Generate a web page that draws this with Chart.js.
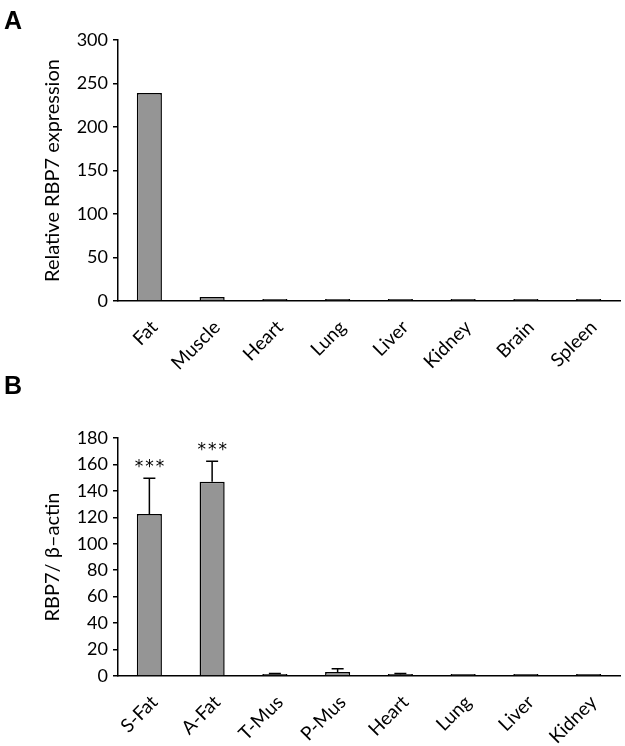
<!DOCTYPE html>
<html><head><meta charset="utf-8">
<script src="https://cdn.jsdelivr.net/npm/chart.js@4/dist/chart.umd.min.js"></script>
<style>
body{margin:0;background:#fff;width:625px;height:746px;position:relative;overflow:hidden}
canvas{position:absolute;left:0}
.lbl{position:absolute;font:bold 25px/1 "Liberation Sans",Arial,sans-serif;left:4px;color:#000}
</style></head><body>
<canvas id="ca" width="625" height="370" style="top:0"></canvas>
<canvas id="cb" width="625" height="376" style="top:370px"></canvas>
<div class="lbl" style="top:8px">A</div>
<div class="lbl" style="top:373px">B</div>
<script>
const catsA = ['Fat','Muscle','Heart','Lung','Liver','Kidney','Brain','Spleen'];
const valsA = [239, 4.5, 0.6, 0.3, 0.3, 0.3, 0.4, 0.3];

const catsB = ['S-Fat','A-Fat','T-Mus','P-Mus','Heart','Lung','Liver','Kidney'];
const valsB = [122.5, 147, 1.5, 3, 1.2, 0.2, 0.2, 0.2];
const errsB = [27, 15.5, 0.4, 2.5, 0.6, 0, 0, 0];
const starsB = ['***','***','','','','','',''];

const FONT = 'Lato';
const BAR_FILL = '#959595';

const errPlugin = {
  id: 'errbars',
  afterDatasetsDraw(chart, args, opts) {
    const errs = opts.errs || [];
    const stars = opts.stars || [];
    const ctx = chart.ctx;
    const y = chart.scales.y;
    const meta = chart.getDatasetMeta(0);
    const data = chart.data.datasets[0].data;
    ctx.save();
    ctx.strokeStyle = '#000';
    ctx.fillStyle = '#000';
    ctx.lineWidth = 1.5;
    meta.data.forEach((bar, i) => {
      const v = data[i];
      const e = errs[i] || 0;
      const topV = y.getPixelForValue(v + e);
      if (e > 0) {
        const base = y.getPixelForValue(v);
        ctx.beginPath();
        ctx.moveTo(bar.x, base);
        ctx.lineTo(bar.x, topV);
        ctx.moveTo(bar.x - 6, topV);
        ctx.lineTo(bar.x + 6, topV);
        ctx.stroke();
      }
      if (stars[i]) {
        ctx.font = '17px "DejaVu Sans"';
        ctx.letterSpacing = '2px';
        ctx.textAlign = 'center';
        ctx.textBaseline = 'alphabetic';
        ctx.fillText(stars[i], bar.x + 1, topV - 6);
      }
    });
    ctx.restore();
  }
};

function makeChart(id, cats, vals, opt) {
  return new Chart(document.getElementById(id), {
    type: 'bar',
    data: {
      labels: cats,
      datasets: [{
        data: vals,
        backgroundColor: BAR_FILL,
        borderColor: '#000',
        borderWidth: 1.5,
        barPercentage: 0.4,
        categoryPercentage: 1,
        minBarLength: 2
      }]
    },
    options: {
      responsive: false,
      animation: false,
      events: [],
      layout: { padding: { top: opt.padTop, right: 5, left: 0, bottom: 0 } },
      plugins: {
        legend: { display: false },
        tooltip: { enabled: false },
        errbars: { errs: opt.errs, stars: opt.stars }
      },
      scales: {
        x: {
          grid: { display: false },
          border: { display: true, color: '#000', width: 1.5 },
          ticks: {
            color: '#000', font: { family: FONT, size: 19 },
            minRotation: 45, maxRotation: 45, padding: 7, labelOffset: 5, autoSkip: false
          },
          afterFit(s) { s.height = opt.xh; }
        },
        y: {
          min: 0, max: opt.max,
          grid: { display: true, drawOnChartArea: false, drawTicks: true, tickLength: 5, color: '#000', lineWidth: 1.5 },
          border: { display: true, color: '#000', width: 1.5 },
          ticks: { stepSize: opt.step, color: '#000', font: { family: FONT, size: 18 }, padding: 5 },
          title: { display: true, text: opt.title, color: '#000', font: { family: FONT, size: 20 }, padding: { top: 41, bottom: 0 } },
          afterFit(s) { s.width = 118; }
        }
      }
    },
    plugins: [errPlugin]
  });
}

makeChart('ca', catsA, valsA, { padTop: 40, xh: 69, max: 300, step: 50, title: 'Relative RBP7 expression', errs: [], stars: [] });
makeChart('cb', catsB, valsB, { padTop: 68, xh: 70, max: 180, step: 20, title: 'RBP7/ β–actin', errs: errsB, stars: starsB });
</script>
</body></html>
